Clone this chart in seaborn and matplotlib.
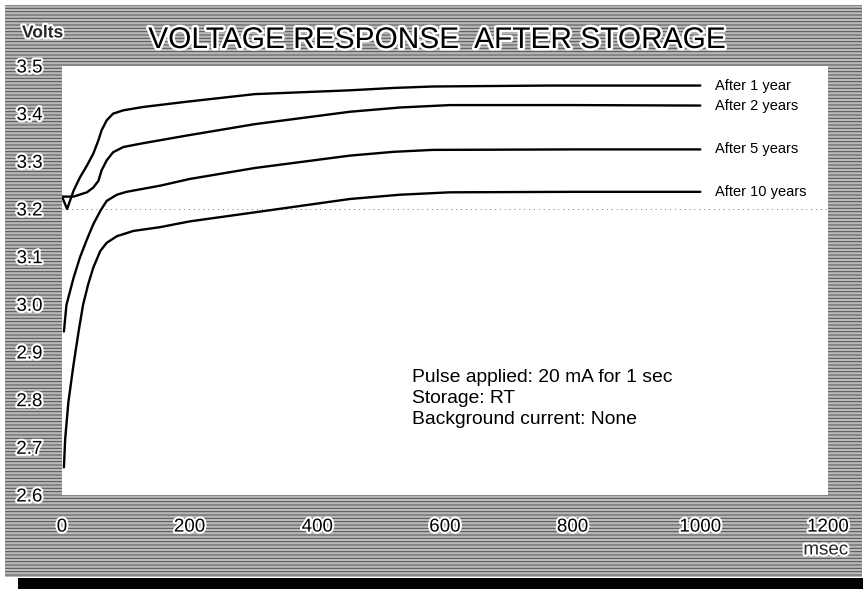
import matplotlib
matplotlib.use("Agg")
import matplotlib.pyplot as plt
import matplotlib.patheffects as pe
from matplotlib.patches import Rectangle
import seaborn as sns
import pandas as pd

# ---- data ----
x_1yr = [0, 8, 18, 28, 39, 49, 57, 62, 70, 80, 96, 127, 195, 302, 451, 520, 581, 764, 1000]
y_1yr = [3.226, 3.200, 3.238, 3.266, 3.291, 3.316, 3.344, 3.365, 3.386, 3.400, 3.407, 3.414,
         3.425, 3.441, 3.449, 3.454, 3.457, 3.459, 3.459]

x_2yr = [0, 18, 39, 49, 57, 62, 70, 80, 96, 127, 195, 302, 451, 530, 608, 800, 1000]
y_2yr = [3.226, 3.226, 3.235, 3.245, 3.259, 3.281, 3.302, 3.319, 3.330, 3.338, 3.354,
         3.378, 3.404, 3.413, 3.418, 3.418, 3.417]

x_5yr = [3, 7, 18, 28, 39, 49, 60, 70, 86, 101, 154, 200, 302, 451, 520, 581, 800, 1000]
y_5yr = [2.943, 2.999, 3.055, 3.098, 3.136, 3.168, 3.196, 3.217, 3.230, 3.236, 3.249,
         3.263, 3.286, 3.312, 3.320, 3.324, 3.325, 3.325]

x_10yr = [3, 5, 10, 18, 26, 33, 41, 49, 60, 70, 86, 112, 154, 200, 302, 451, 530, 608, 800, 1000]
y_10yr = [2.658, 2.718, 2.795, 2.873, 2.943, 2.999, 3.042, 3.077, 3.112, 3.129, 3.143,
          3.154, 3.162, 3.174, 3.193, 3.221, 3.230, 3.235, 3.236, 3.236]

series_names = ["After 1 year", "After 2 years", "After 5 years", "After 10 years"]
xticks = [0, 200, 400, 600, 800, 1000, 1200]
yticks = [2.6, 2.7, 2.8, 2.9, 3.0, 3.1, 3.2, 3.3, 3.4, 3.5]
ytick_labels = ["2.6", "2.7", "2.8", "2.9", "3.0", "3.1", "3.2", "3.3", "3.4", "3.5"]
notes = ["Pulse applied: 20 mA for 1 sec", "Storage: RT", "Background current: None"]
title = "VOLTAGE RESPONSE  AFTER STORAGE"

frames = []
for name, xs, ys in zip(series_names, [x_1yr, x_2yr, x_5yr, x_10yr],
                        [y_1yr, y_2yr, y_5yr, y_10yr]):
    frames.append(pd.DataFrame({"msec": xs, "volts": ys, "series": name}))
df = pd.concat(frames, ignore_index=True)

sns.set_theme(style="white")
plt.rcParams["font.family"] = ["Liberation Sans", "DejaVu Sans"]
plt.rcParams["hatch.linewidth"] = 0.7

W, H = 863, 589
fig = plt.figure(figsize=(W / 100, H / 100), dpi=100)
fig.patch.set_facecolor("white")

# dithered gray background + black bottom bar
fig.patches.append(Rectangle((5 / W, (H - 577) / H), (862 - 5) / W, (577 - 5) / H,
                             transform=fig.transFigure, facecolor="#b9b9b9",
                             edgecolor="#505050", hatch="-----", linewidth=0, zorder=-5))
fig.patches.append(Rectangle((18 / W, 0), (W - 18) / W, (H - 578) / H,
                             transform=fig.transFigure, facecolor="black",
                             edgecolor="none", zorder=-5))

ax = fig.add_axes([62 / W, 1 - 495 / H, (828 - 62) / W, (495 - 66) / H])
ax.set_zorder(1)
ax.set_facecolor("white")

sns.lineplot(data=df, x="msec", y="volts", hue="series", units="series",
             estimator=None, sort=False, palette=["black"] * 4,
             linewidth=1.7, legend=False, ax=ax)
for ln in ax.get_lines():
    ln.set_solid_joinstyle("round")

ax.axhline(3.2, color="#777777", linestyle=(0, (1, 4)), linewidth=0.7, zorder=0)

ax.set_xlim(0, 1200)
ax.set_ylim(2.6, 3.5)
for s in ax.spines.values():
    s.set_visible(False)

halo = [pe.withStroke(linewidth=3, foreground="white")]
ax.set_xticks(xticks)
ax.set_xticklabels([str(t) for t in xticks], fontsize=13.5)
ax.set_yticks(yticks)
ax.set_yticklabels(ytick_labels, fontsize=13.5)
ax.tick_params(axis="x", length=0, pad=17)
ax.tick_params(axis="y", length=0, pad=14)
for lbl in ax.get_xticklabels() + ax.get_yticklabels():
    lbl.set_path_effects(halo)
    lbl.set_color("black")
ax.set_xlabel("")
ax.set_ylabel("")

# series labels at line ends
for name, ys in zip(series_names, [y_1yr, y_2yr, y_5yr, y_10yr]):
    ax.text(1023, ys[-1], name, fontsize=10.5, ha="left", va="center", color="black")

# notes
for i, line in enumerate(notes):
    ax.text(0.457, 0.273 - i * 0.049, line, transform=ax.transAxes,
            fontsize=13.9, ha="left", va="center", color="black")

fig.text(437 / W, 1 - 40 / H, title, fontsize=21.5, ha="center", va="center",
         color="black", path_effects=[pe.withStroke(linewidth=3.5, foreground="white")])
fig.text(22 / W, 1 - 33 / H, "Volts", fontsize=12.5, fontweight="bold", ha="left",
         va="center", path_effects=halo)
fig.text(848 / W, 1 - 550 / H, "msec", fontsize=13.5, ha="right", va="center",
         path_effects=halo)

fig.savefig("out.png", dpi=100, facecolor=fig.get_facecolor())
